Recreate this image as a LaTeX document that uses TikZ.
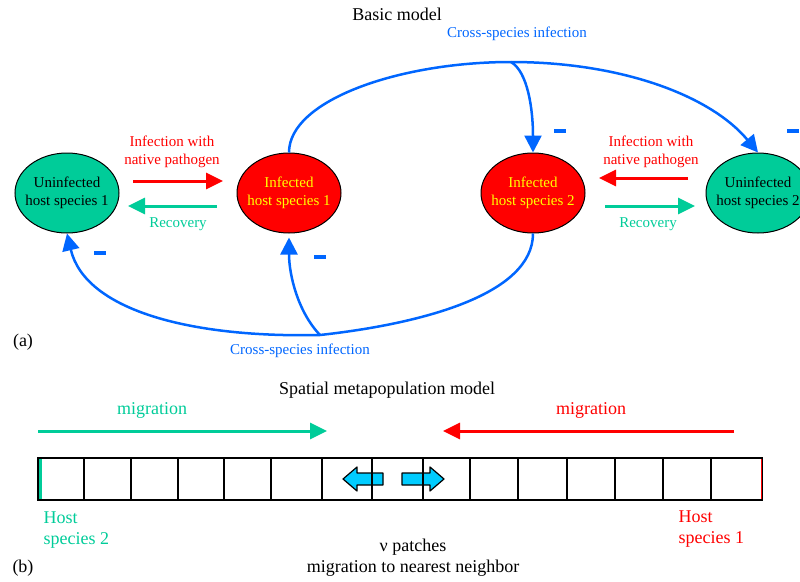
\documentclass[tikz,border=0pt]{standalone}
\usepackage{fontspec}
\setmainfont{Liberation Serif}
\usepackage{xcolor}
\usepackage{tikz}
\usetikzlibrary{shapes,arrows.meta,positioning}

\definecolor{seagreen}{HTML}{00CC99}
\definecolor{hostred}{HTML}{FF0000}
\definecolor{crossblue}{HTML}{0066FF}
\definecolor{patchcyan}{HTML}{00CCFF}
\definecolor{infyellow}{HTML}{FFFF00}

% two centred lines that do not widen the ellipse
\newcommand{\hostname}[2]{\makebox[0pt]{\begin{tabular}{@{}c@{}}#1\\#2\end{tabular}}}

\begin{document}
\begin{tikzpicture}[x=1pt, y=-1pt,
    host/.style={ellipse, draw, line width=1pt, minimum width=104pt, minimum height=80pt,
                 inner sep=0pt, font=\fontsize{15}{18}\selectfont},
    uninf/.style={host, fill=seagreen, text=black},
    inf/.style={host, fill=hostred, text=infyellow},
    note/.style={font=\fontsize{15}{18}\selectfont, align=center},
    heading/.style={font=\fontsize{18}{21}\selectfont, align=center},
    flow/.style={line width=3pt, -{Triangle[length=17pt,width=16pt]}},
    crossline/.style={line width=2.5pt, crossblue},
    cross/.style={crossline, -{Triangle[length=17pt,width=17pt]}},
    minus/.style={rectangle, fill=crossblue, minimum width=12pt, minimum height=4.5pt, inner sep=0pt},
    patcharrow/.style={draw, line width=1.2pt, fill=patchcyan, line join=round}
]
    \useasboundingbox (0,0) rectangle (800,581);

    % (a) Basic model
    \node[heading] (basic) at (397,14) {Basic model};
    \node[note, text=crossblue] (crosstop) at (517,34) {Cross-species infection};
    \node[note, text=crossblue] (crossbot) at (300,351) {Cross-species infection};
    \node[heading] (lbla) at (23,342) {(a)};

    \node[uninf] (unf1) at (67,193) {\hostname{Uninfected}{host species 1}};
    \node[inf] (inf1) at (289,193) {\hostname{Infected}{host species 1}};
    \node[inf] (inf2) at (533,193) {\hostname{Infected}{host species 2}};
    \node[uninf] (unf2) at (758,193) {\hostname{Uninfected}{host species 2}};

    % native infection and recovery
    \coordinate (r1a) at (133,181);
    \coordinate (r1b) at (223,181);
    \coordinate (g1a) at (217,206);
    \coordinate (g1b) at (128,206);
    \coordinate (r2a) at (688,178);
    \coordinate (r2b) at (599,178);
    \coordinate (g2a) at (605,206);
    \coordinate (g2b) at (695,206);

    \draw[flow, hostred] (r1a) -- (r1b);
    \draw[flow, seagreen] (g1a) -- (g1b);
    \draw[flow, hostred] (r2a) -- (r2b);
    \draw[flow, seagreen] (g2a) -- (g2b);

    \node[note, text=hostred] (inflbl1) at (172,152) {Infection with\\native pathogen};
    \node[note, text=seagreen] (reclbl1) at (178,224) {Recovery};
    \node[note, text=hostred] (inflbl2) at (651,152) {Infection with\\native pathogen};
    \node[note, text=seagreen] (reclbl2) at (648,224) {Recovery};

    % cross-species infection
    \coordinate (topjoin) at (511,62);
    \coordinate (botjoin) at (320,335);

    \draw[crossline] (inf1.north) .. controls (289,100) and (400,62) .. (topjoin);
    \draw[cross] (topjoin) .. controls (620,62) and (710,95) .. (unf2.north);
    \draw[cross] (topjoin) .. controls (528,72) and (533,110) .. (inf2.north);

    \draw[crossline] (inf2.south) .. controls (533,295) and (420,324) .. (botjoin);
    \draw[cross] (botjoin) .. controls (190,338) and (85,310) .. (unf1.south);
    \draw[cross, shorten >=4pt] (botjoin) .. controls (298,312) and (289,275) .. (inf1.south);

    \node[minus] (m1) at (560,131) {};
    \node[minus] (m2) at (793,131) {};
    \node[minus] (m3) at (100,253) {};
    \node[minus] (m4) at (320,257) {};

    % (b) Spatial metapopulation model
    \node[heading] (spatial) at (387,390) {Spatial metapopulation model};
    \node[heading, text=seagreen] (miglft) at (152,410) {migration};
    \node[heading, text=hostred] (migrgt) at (591,410) {migration};

    \coordinate (mg0) at (38,431);
    \coordinate (mg1) at (327,431);
    \coordinate (mr0) at (734,431);
    \coordinate (mr1) at (443,431);
    \draw[flow, seagreen] (mg0) -- (mg1);
    \draw[flow, hostred] (mr0) -- (mr1);

    % move to nearest neighbour
    \draw[patcharrow] (343,479) -- (357,467) -- (357,473) -- (383,473) -- (383,485)
        -- (357,485) -- (357,491) -- cycle;
    \draw[patcharrow] (444,479) -- (430,467) -- (430,473) -- (402,473) -- (402,485)
        -- (430,485) -- (430,491) -- cycle;

    \foreach \x in {84,131,178,224,271,322,372,423,470,518,567,615,663,711}
        \draw[line width=1.5pt] (\x,458) -- (\x,500);
    \draw[line width=2pt] (38,458) rectangle (762,500);
    \draw[seagreen, line width=3.5pt] (40.5,459) -- (40.5,499);
    \draw[hostred, line width=1pt] (761.5,459) -- (761.5,499);

    \node[heading, text=seagreen, anchor=west, align=left] (host2) at (40,530) {Host\\species 2};
    \node[heading, text=hostred, anchor=west, align=left] (host1) at (675,529) {Host\\species 1};
    \node[heading] (patches) at (413,558) {ν patches\\migration to nearest neighbor};
    \node[heading] (lblb) at (23,568) {(b)};
\end{tikzpicture}
\end{document}
